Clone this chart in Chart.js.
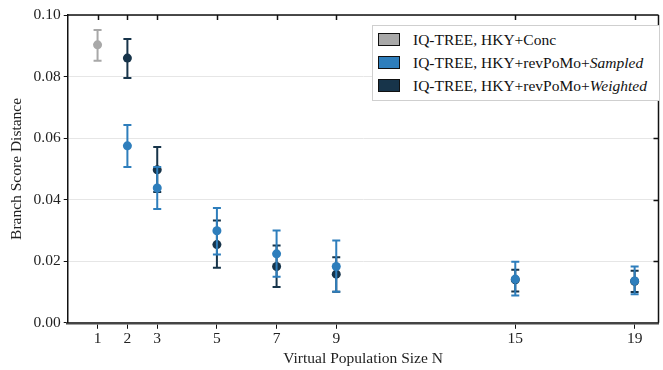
<!DOCTYPE html>
<html>
<head>
<meta charset="utf-8">
<script src="https://cdn.jsdelivr.net/npm/chart.js@4"></script>
<style>
  body { margin: 0; background: #fff; }
  #wrap { position: relative; width: 663px; height: 370px; }
  #legend {
    position: absolute; left: 372px; top: 25px; width: 286px;
    border: 1px solid #cfcfcf; background: #fff;
    font-family: "Liberation Serif", serif; font-size: 15.5px; color: #111;
    padding: 2px 0 3px 0;
  }
  #legend div { height: 23px; line-height: 23px; white-space: nowrap; }
  #legend span.sw {
    display: inline-block; width: 20px; height: 11px; border: 1px solid #111;
    vertical-align: -1px; margin: 0 13px 0 5px;
  }
</style>
</head>
<body>
<div id="wrap">
  <canvas id="chart" width="663" height="370"></canvas>
  <div id="legend">
    <div><span class="sw" style="background:#a8a8a8"></span>IQ-TREE, HKY+Conc</div>
    <div><span class="sw" style="background:#2e7ebc"></span>IQ-TREE, HKY+revPoMo+<i>Sampled</i></div>
    <div><span class="sw" style="background:#17344a"></span>IQ-TREE, HKY+revPoMo+<i>Weighted</i></div>
  </div>
</div>
<script>
const xTicks = [1, 2, 3, 5, 7, 9, 15, 19];

// HKY+Conc
const concX = [1];
const concY = [0.0903];
const concLo = [0.0851];
const concHi = [0.0951];

// HKY+revPoMo+Sampled
const sampX = [2, 3, 5, 7, 9, 15, 19];
const sampY = [0.0575, 0.0438, 0.0299, 0.0224, 0.0183, 0.0142, 0.0136];
const sampLo = [0.0506, 0.0370, 0.0222, 0.0150, 0.0101, 0.0089, 0.0093];
const sampHi = [0.0643, 0.0506, 0.0373, 0.0300, 0.0267, 0.0198, 0.0183];

// HKY+revPoMo+Weighted
const wghtX = [2, 3, 5, 7, 9, 15, 19];
const wghtY = [0.0860, 0.0497, 0.0254, 0.0183, 0.0158, 0.0140, 0.0135];
const wghtLo = [0.0795, 0.0425, 0.0179, 0.0116, 0.0101, 0.0102, 0.0100];
const wghtHi = [0.0922, 0.0571, 0.0332, 0.0251, 0.0213, 0.0172, 0.0169];

const pts = (xs, ys) => xs.map((x, i) => ({x: x, y: ys[i]}));
const errors = [[concLo, concHi], [sampLo, sampHi], [wghtLo, wghtHi]];

const font = "'Liberation Serif', serif";

// error bars drawn under each dataset's points
const errorBars = {
  id: 'errorBars',
  beforeDatasetDraw(chart, args) {
    const ctx = chart.ctx;
    const ds = chart.data.datasets[args.index];
    const xs = chart.scales.x, ys = chart.scales.y;
    const [lo, hi] = errors[args.index];
    ctx.save();
    ctx.strokeStyle = ds.borderColor;
    ctx.lineWidth = 2;
    ds.data.forEach((p, i) => {
      const px = xs.getPixelForValue(p.x);
      const y1 = ys.getPixelForValue(lo[i]);
      const y2 = ys.getPixelForValue(hi[i]);
      ctx.beginPath();
      ctx.moveTo(px, y1); ctx.lineTo(px, y2);
      ctx.moveTo(px - 4, y1); ctx.lineTo(px + 4, y1);
      ctx.moveTo(px - 4, y2); ctx.lineTo(px + 4, y2);
      ctx.stroke();
    });
    ctx.restore();
  }
};

// frame: top line with inward ticks, right line
const frame = {
  id: 'frame',
  afterDraw(chart) {
    const ctx = chart.ctx, a = chart.chartArea, xs = chart.scales.x, ys = chart.scales.y;
    ctx.save();
    ctx.strokeStyle = '#111';
    ctx.lineWidth = 1.5;
    ctx.beginPath();
    ctx.moveTo(a.left, a.top); ctx.lineTo(a.right, a.top);
    ctx.moveTo(a.right, a.top); ctx.lineTo(a.right, a.bottom);
    xTicks.forEach(t => {
      const px = Math.round(xs.getPixelForValue(t)) + 0.5;
      ctx.moveTo(px, a.top); ctx.lineTo(px, a.top + 5);
    });
    [0.02, 0.04, 0.06, 0.08].forEach(v => {
      const py = Math.round(ys.getPixelForValue(v)) + 0.5;
      ctx.moveTo(a.right, py); ctx.lineTo(a.right - 5, py);
    });
    ctx.stroke();
    ctx.restore();
  }
};

new Chart(document.getElementById('chart'), {
  type: 'scatter',
  data: {
    datasets: [
      {label: 'IQ-TREE, HKY+Conc', data: pts(concX, concY), borderColor: '#a8a8a8', backgroundColor: '#a8a8a8'},
      {label: 'IQ-TREE, HKY+revPoMo+Sampled', data: pts(sampX, sampY), borderColor: '#2e7ebc', backgroundColor: '#2e7ebc'},
      {label: 'IQ-TREE, HKY+revPoMo+Weighted', data: pts(wghtX, wghtY), borderColor: '#17344a', backgroundColor: '#17344a'}
    ]
  },
  options: {
    responsive: false,
    animation: false,
    layout: {padding: {top: 15, right: 1, left: 4, bottom: 2}},
    elements: {point: {radius: 4.5, borderWidth: 0, hoverRadius: 4.5}},
    plugins: {legend: {display: false}, tooltip: {enabled: false}},
    scales: {
      x: {
        type: 'linear', min: 0, max: 19.8,
        afterBuildTicks: s => { s.ticks = xTicks.map(v => ({value: v})); },
        grid: {drawOnChartArea: false, drawTicks: true, tickLength: 6, color: '#111'},
        border: {color: '#444', width: 2.5},
        ticks: {font: {family: font, size: 15.5}, color: '#222', padding: 1},
        title: {display: true, text: 'Virtual Population Size N', font: {family: font, size: 15.5}, color: '#222', padding: {top: 0, bottom: 0}}
      },
      y: {
        min: 0, max: 0.1,
        ticks: {stepSize: 0.02, callback: v => v.toFixed(2), font: {family: font, size: 15.5}, color: '#222', padding: 3},
        grid: {color: '#e6e6e6', tickColor: '#111', tickLength: 4},
        border: {color: '#111', width: 1.5},
        title: {display: true, text: 'Branch Score Distance', font: {family: font, size: 15.5}, color: '#222', padding: {bottom: 4}}
      }
    }
  },
  plugins: [errorBars, frame]
});
</script>
</body>
</html>
